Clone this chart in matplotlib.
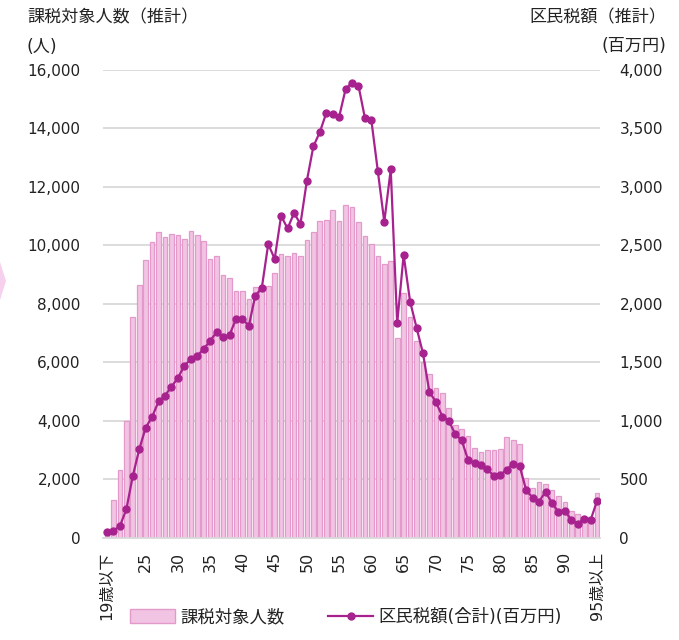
"""
課税対象人数と区民税額（推計）の年齢別チャート
"""
import matplotlib

matplotlib.use("Agg")
import matplotlib.pyplot as plt
from matplotlib.patches import Polygon
from matplotlib.lines import Line2D
from matplotlib.patches import Patch
from matplotlib.ticker import FuncFormatter

# 数字は DejaVu Sans（Verdana 風）、漢字は Noto Sans CJK JP にフォールバック
plt.rcParams["font.family"] = ["DejaVu Sans", "Noto Sans CJK JP"]

# 年齢区分: 19歳以下, 20..94, 95歳以上
ages = ["19歳以下"] + [str(a) for a in range(20, 95)] + ["95歳以上"]

# 課税対象人数（人）
taxpayers = [
    150, 1300, 2300, 4000, 7550, 8640, 9500, 10100, 10440, 10300,
    10400, 10350, 10220, 10500, 10350, 10150, 9530, 9650, 8990, 8870,
    8430, 8430, 8150, 8590, 8590, 8610, 9060, 9700, 9650, 9720,
    9650, 10180, 10450, 10830, 10850, 11220, 10840, 11390, 11310, 10810,
    10330, 10040, 9620, 9350, 9450, 6820, 8360, 7560, 6710, 5990,
    5600, 5130, 4930, 4420, 3840, 3720, 3480, 3070, 2940, 2990,
    2990, 3020, 3440, 3340, 3210, 2050, 1710, 1890, 1840, 1630,
    1420, 1230, 920, 810, 710, 700, 1540,
]

# 区民税額(合計)(百万円)
tax_amount = [
    50, 56, 98, 241, 526, 755, 940, 1031, 1166, 1214,
    1291, 1365, 1471, 1525, 1554, 1614, 1682, 1759, 1716, 1733,
    1868, 1868, 1813, 2070, 2133, 2510, 2384, 2752, 2644, 2775,
    2684, 3054, 3346, 3468, 3631, 3625, 3600, 3836, 3893, 3865,
    3588, 3568, 3134, 2701, 3149, 1833, 2418, 2019, 1796, 1576,
    1243, 1163, 1034, 1000, 883, 832, 663, 635, 621, 586,
    524, 538, 581, 632, 609, 404, 341, 307, 392, 295,
    218, 229, 150, 116, 161, 150, 315,
]

left_ticks = [0, 2000, 4000, 6000, 8000, 10000, 12000, 14000, 16000]
right_ticks = [0, 500, 1000, 1500, 2000, 2500, 3000, 3500, 4000]

bar_face = "#f2c4e4"
bar_edge = "#e39acb"
line_color = "#a7228e"
grid_color = "#d9d9d9"
text_color = "#222222"

W, H = 679, 640
fig = plt.figure(figsize=(W / 100, H / 100), dpi=100)
ax1 = fig.add_axes([103 / W, 1 - 537.5 / H, 497 / W, 467.5 / H])
ax2 = ax1.twinx()

x = list(range(len(ages)))
ax1.bar(x, taxpayers, width=0.72, color=bar_face, edgecolor=bar_edge,
        linewidth=0.9, zorder=2)
ax2.plot(x, tax_amount, "-o", color=line_color, linewidth=1.6,
         markersize=5, zorder=3)

ax1.set_xlim(-0.62, 76.45)
ax1.set_ylim(0, 16000)
ax2.set_ylim(0, 4000)
ax1.set_yticks(left_ticks)
ax2.set_yticks(right_ticks)
fmt = FuncFormatter(lambda v, p: f"{int(v):,}")
ax1.yaxis.set_major_formatter(fmt)
ax2.yaxis.set_major_formatter(fmt)

# x ticks: 両端 + 5歳刻み
tick_idx = [0] + [ages.index(str(a)) for a in range(25, 95, 5)] + [len(ages) - 1]
ax1.set_xticks(tick_idx)
ax1.set_xticklabels([ages[i] for i in tick_idx], rotation=90, fontsize=11.5,
                    color=text_color)

ax1.yaxis.grid(True, color=grid_color, linewidth=1.3, zorder=0)
ax1.set_axisbelow(True)
for ax in (ax1, ax2):
    for s in ax.spines.values():
        s.set_visible(False)
ax1.spines["bottom"].set_visible(True)
ax1.spines["bottom"].set_color(grid_color)
ax1.spines["bottom"].set_linewidth(1.3)

ax1.tick_params(axis="x", length=0, pad=10)
ax1.tick_params(axis="y", length=0, pad=16, labelsize=11, labelcolor=text_color)
ax2.tick_params(axis="y", length=0, pad=14, labelsize=11, labelcolor=text_color)

# axis titles
fig.text(27 / W, 1 - 17 / H, "課税対象人数（推計）", fontsize=12.3,
         color=text_color, ha="left", va="center")
fig.text(27 / W, 1 - 47 / H, "(人)", fontsize=12.3, color=text_color,
         ha="left", va="center")
fig.text(666 / W, 1 - 17 / H, "区民税額（推計）", fontsize=12.3,
         color=text_color, ha="right", va="center")
fig.text(666 / W, 1 - 46 / H, "(百万円)", fontsize=12.3, color=text_color,
         ha="right", va="center")

# legend
handles = [
    Patch(facecolor=bar_face, edgecolor=bar_edge, linewidth=1.0),
    Line2D([], [], color=line_color, marker="o", linewidth=1.6, markersize=5),
]
fig.legend(handles, ["課税対象人数", "区民税額(合計)(百万円)"],
           loc="center", bbox_to_anchor=(346 / W, 1 - 617 / H), ncol=2,
           frameon=False, fontsize=12.5, handlelength=2.6, handleheight=0.85,
           columnspacing=2.5, handletextpad=0.3, labelcolor=text_color)

# left-edge decoration (pink arrow sliver)
fig.patches.append(Polygon([[0, 1 - 262 / H], [6 / W, 1 - 281 / H],
                            [0, 1 - 300 / H]], closed=True,
                           transform=fig.transFigure, facecolor="#f6d0ec",
                           edgecolor="none"))

fig.savefig("out.png", dpi=100)
